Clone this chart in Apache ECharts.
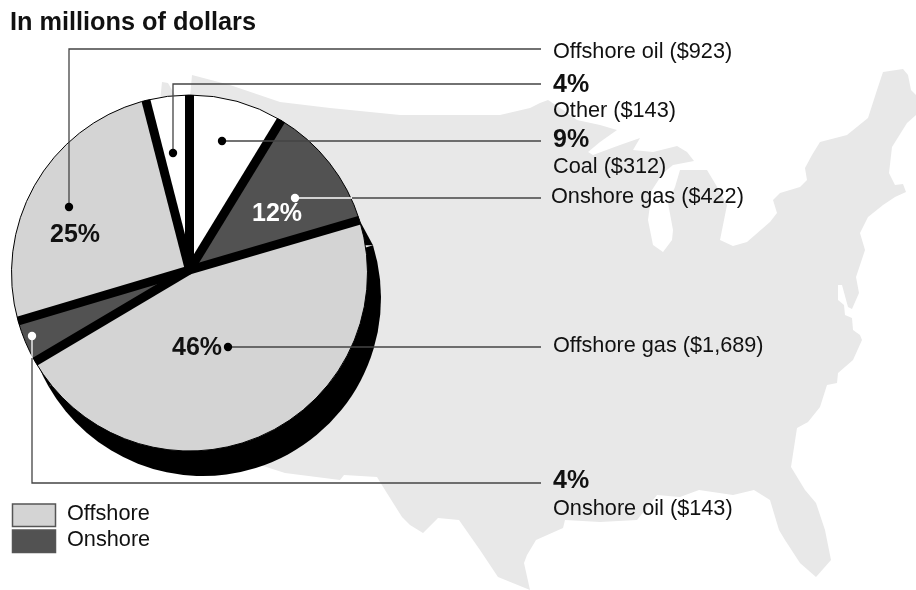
<!DOCTYPE html>
<html>
<head>
<meta charset="utf-8">
<style>html,body{margin:0;padding:0;background:#fff}#c{width:916px;height:590px}</style>
<script src="https://cdn.jsdelivr.net/npm/echarts@6/dist/echarts.min.js"></script>
</head>
<body>
<div id="c"></div>
<script>
// Data
const categories = ['Coal', 'Onshore gas', 'Offshore gas', 'Onshore oil', 'Offshore oil', 'Other'];
const values = [312, 422, 1689, 143, 923, 143];
const kinds = ['other', 'onshore', 'offshore', 'onshore', 'offshore', 'other'];
const titleText = 'In millions of dollars';
const legendLabels = ['Offshore', 'Onshore'];
const sideLabels = [
  {t: 'Offshore oil ($923)', x: 553, y: 52},
  {t: '4%', x: 553, y: 85, b: 1},
  {t: 'Other ($143)', x: 553, y: 111},
  {t: '9%', x: 553, y: 140, b: 1},
  {t: 'Coal ($312)', x: 553, y: 167},
  {t: 'Onshore gas ($422)', x: 551, y: 197},
  {t: 'Offshore gas ($1,689)', x: 553, y: 346},
  {t: '4%', x: 553, y: 481, b: 1},
  {t: 'Onshore oil ($143)', x: 553, y: 509}
];
const innerLabels = [
  {t: '25%', x: 75, y: 235, c: '#111'},
  {t: '46%', x: 197, y: 348, c: '#111'},
  {t: '12%', x: 277, y: 214, c: '#fff'}
];
// Leader lines
const leaders = [
  [[69, 207], [69, 49], [541, 49]],
  [[173, 153], [173, 84], [541, 84]],
  [[222, 141], [541, 141]],
  [[352, 198], [541, 198]],
  [[228, 347], [541, 347]],
  [[32, 358], [32, 483], [541, 483]]
];
const whiteLeaders = [
  [[295, 198], [352, 198]],
  [[32, 336], [32, 358]]
];
const blackDots = [[69, 207], [173, 153], [222, 141], [228, 347]];
const whiteDots = [[295, 198], [32, 336]];
// Background silhouette of the United States
const mapOutline = [
  [162,82],[168,83],[176,97],[190,97],[192,75],[230,85],[280,102],[330,108],[400,115],[500,115],[530,108],[540,103],[548,100],
  [563,110],[577,120],[600,125],[617,130],[600,142],[588,152],[593,155],[620,145],[640,138],[633,150],
  [653,152],[677,146],[687,152],[694,161],[673,165],[663,173],[652,190],[648,220],[653,245],[663,252],
  [672,240],[673,230],[668,203],[675,187],[680,170],[707,170],[716,185],[727,205],[722,230],[720,240],[733,246],[747,242],[770,222],
  [777,213],[773,200],[780,193],[800,187],[807,180],[805,168],[812,155],[820,142],[847,135],[868,118],[877,90],[883,72],[903,69],
  [908,75],[911,90],[916,95],[916,115],[907,123],[892,147],[889,173],[895,185],[903,184],[906,192],[895,197],[883,205],[868,217],
  [860,233],[865,250],[856,277],[859,293],[852,309],[848,307],[842,285],[838,285],[838,300],[844,305],[845,315],[852,318],[853,330],
  [860,335],[862,340],[853,360],[838,373],[837,383],[827,385],[820,407],[808,422],[797,428],
  [791,467],[805,490],[816,503],[825,530],[831,560],[816,577],[800,563],[785,540],[779,530],[770,500],[754,490],[733,495],
  [699,490],[680,497],[657,495],[645,510],[637,520],[600,522],[565,520],[563,528],[536,540],[527,555],[524,563],[530,590],
  [498,577],[480,550],[459,520],[438,518],[423,533],[410,525],[402,517],[385,490],[377,477],[344,475],[340,480],[285,473],
  [260,465],[200,400],[150,200]
];
// Pie geometry and styling
const CX = 189.5, CY = 273, R = 178;
const SHX = 203, SHY = 298;
const FONT = '"Liberation Sans", Arial, Helvetica, sans-serif';
const LIGHT = '#d4d4d4', DARK = '#525252', MAPC = '#e8e8e8', LINE = '#444';
const fills = {other: '#fff', onshore: DARK, offshore: LIGHT};

const total = values.reduce((a, b) => a + b, 0);
let running = 0;
const boundaries = values.map(v => { const a = running / total * 2 * Math.PI; running += v; return a; });

const graphics = [];
graphics.push({type: 'polygon', z: 0, silent: true, shape: {points: mapOutline}, style: {fill: MAPC}});
leaders.forEach(p => graphics.push({type: 'polyline', z: 100, silent: true, shape: {points: p}, style: {stroke: LINE, lineWidth: 1.3, fill: null}}));
whiteLeaders.forEach(p => graphics.push({type: 'polyline', z: 100, silent: true, shape: {points: p}, style: {stroke: '#fff', lineWidth: 1.3, fill: null}}));
blackDots.forEach(d => graphics.push({type: 'circle', z: 101, silent: true, shape: {cx: d[0], cy: d[1], r: 4.2}, style: {fill: '#000'}}));
whiteDots.forEach(d => graphics.push({type: 'circle', z: 101, silent: true, shape: {cx: d[0], cy: d[1], r: 4.2}, style: {fill: '#fff'}}));
sideLabels.forEach(l => graphics.push({type: 'text', z: 102, silent: true, x: l.x, y: l.y, style: {
  text: l.t, fill: '#111', font: (l.b ? 'bold 25px ' : '21.7px ') + FONT, textVerticalAlign: 'middle', textAlign: 'left'}}));
innerLabels.forEach(l => graphics.push({type: 'text', z: 102, silent: true, x: l.x, y: l.y, style: {
  text: l.t, fill: l.c, font: 'bold 25px ' + FONT, textVerticalAlign: 'middle', textAlign: 'center'}}));
[[504, LIGHT], [530, DARK]].forEach((r, i) => {
  graphics.push({type: 'rect', z: 102, silent: true, shape: {x: 12.5, y: r[0], width: 43, height: 22.5}, style: {fill: r[1], stroke: '#555', lineWidth: 1.5}});
  graphics.push({type: 'text', z: 102, silent: true, x: 67, y: r[0] + 10 , style: {text: legendLabels[i], fill: '#111', font: '21.7px ' + FONT, textVerticalAlign: 'middle', textAlign: 'left'}});
});

const chart = echarts.init(document.getElementById('c'), null, {renderer: 'canvas'});
chart.setOption({
  animation: false,
  backgroundColor: '#fff',
  title: {text: titleText, left: 10, top: 11, padding: 0, textStyle: {fontFamily: FONT, fontWeight: 'bold', fontSize: 25.3, color: '#111'}},
  tooltip: {show: false},
  graphic: {elements: graphics},
  series: [
    {
      type: 'pie', z: 1, silent: true, center: [SHX, SHY], radius: [0, R], startAngle: 90,
      label: {show: false}, labelLine: {show: false},
      data: categories.map((n, i) => ({name: n, value: values[i], itemStyle: {color: i < 2 ? 'rgba(0,0,0,0)' : '#000', borderWidth: 0}}))
    },
    {
      // extruded edge of the separator that meets the shadow
      type: 'custom', z: 1, silent: true, coordinateSystem: 'none',
      data: [boundaries[2]],
      renderItem: (params, api) => {
        const a = api.value(0);
        const sx = SHX + R * Math.sin(a), sy = SHY - R * Math.cos(a);
        return {type: 'polygon', shape: {points: [[CX + R * Math.sin(a), CY - R * Math.cos(a)], [sx, sy], [sx - 16, sy]]},
          style: {fill: '#000'}};
      }
    },
    {
      type: 'pie', z: 2, silent: true, center: [CX, CY], radius: [0, R], startAngle: 90,
      label: {show: false}, labelLine: {show: false},
      itemStyle: {borderColor: '#000', borderWidth: 1},
      data: categories.map((n, i) => ({name: n, value: values[i], itemStyle: {color: fills[kinds[i]]}}))
    },
    {
      type: 'custom', z: 3, silent: true, coordinateSystem: 'none',
      data: boundaries,
      renderItem: (params, api) => {
        const a = api.value(0);
        return {type: 'line', shape: {x1: CX, y1: CY - 3, x2: CX + R * Math.sin(a), y2: CY - R * Math.cos(a)},
          style: {stroke: '#000', lineWidth: 9, fill: null}};
      }
    }
  ]
});
</script>
</body>
</html>
